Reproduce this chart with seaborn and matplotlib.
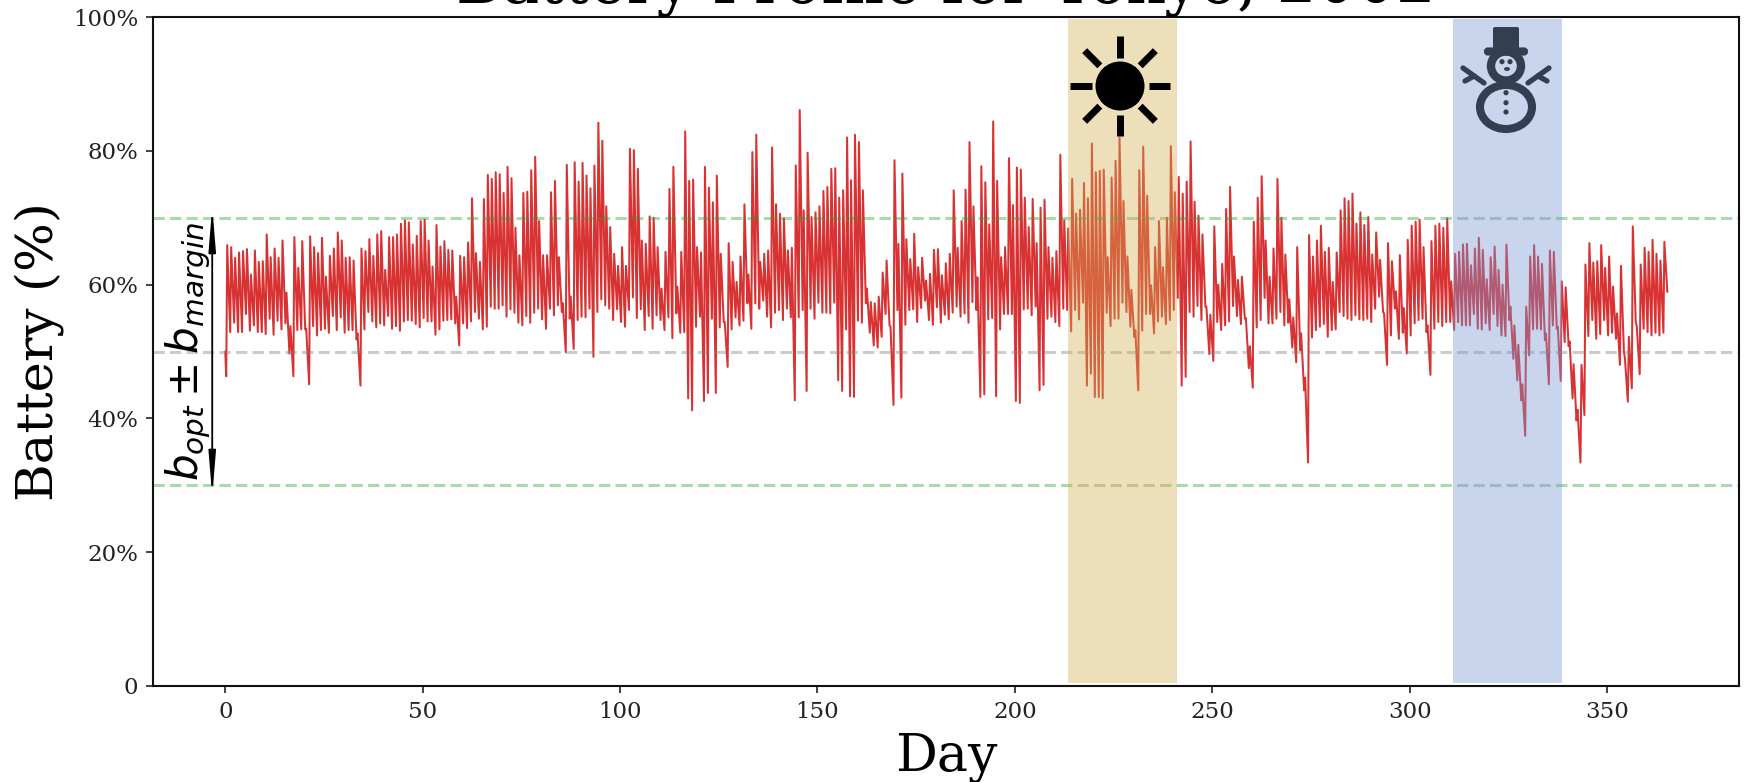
#!/usr/bin/env python

'''
Battery profile for Tokyo: one daily peak and one daily trough read off the chart.
'''

import numpy as np
import pandas as pd
import seaborn as sns
import matplotlib
matplotlib.use("Agg")
import matplotlib.pyplot as plt
from matplotlib.patches import Circle, Ellipse, FancyBboxPatch

start_value = [50.0]

peaks_a = [65.9, 65.6, 64.0, 64.8, 65.0, 65.3, 61.5, 65.1, 63.4, 63.5,
           67.5, 64.1, 65.4, 64.0, 66.6, 58.8, 53.8, 67.1, 62.5, 66.5,
           53.4, 67.2, 65.6, 64.7, 67.0, 61.2, 64.3, 65.4, 67.8, 66.6,
           64.0, 64.1, 63.6, 52.7, 65.4, 65.0, 66.8, 64.3, 67.5, 68.0,
           62.2, 67.1, 67.1, 67.5, 69.1, 69.6, 69.3, 66.0, 67.3, 69.5,
           69.7, 66.6, 62.7, 68.9, 65.7, 66.5, 65.2, 65.1, 58.2, 64.3,
           64.1, 66.3, 72.9, 64.7, 63.4, 72.8, 76.4, 75.8, 76.8, 76.5,
           73.7, 77.6]
peaks_b = [75.9, 68.5, 64.4, 73.7, 73.9, 77.1, 79.1, 69.5, 64.4, 64.4,
           73.8, 75.5, 64.1, 57.2, 77.9, 58.2, 78.3, 75.4, 78.2, 76.3,
           74.4, 77.8, 84.2, 81.5, 71.7, 68.6, 64.6, 62.8, 65.6, 62.8,
           80.3, 80.1, 77.3, 66.6, 66.1, 70.2, 70.0, 65.6, 59.4, 64.9,
           74.3, 77.6, 59.7, 64.9, 82.9, 75.5, 75.7, 65.6, 64.8, 77.6,
           74.5, 72.3, 76.3, 64.6, 54.4, 66.2, 63.4, 60.4, 64.2, 72.0,
           61.5, 79.8, 82.4, 63.4, 64.6, 65.1, 80.5, 72.0, 70.6, 69.9,
           65.1]
peaks_c = [65.5, 77.8, 86.1, 71.1, 79.7, 70.1, 70.8, 71.7, 74.0, 74.6,
           77.3, 77.4, 73.0, 74.1, 82.0, 75.6, 82.4, 81.3, 74.1, 59.4,
           57.4, 57.2, 58.2, 61.8, 63.6, 53.7, 78.6, 66.1, 76.6, 66.8,
           63.8, 67.6, 62.6, 64.0, 60.6, 61.6, 65.2, 65.3, 61.4, 63.2,
           64.6, 74.1, 65.5, 69.5, 74.2, 81.3, 71.7, 61.1, 77.7, 75.3,
           69.0, 84.4, 75.5, 64.1, 65.6, 78.9, 71.9, 77.5, 77.2, 73.0,
           68.6, 72.8, 66.2, 71.5, 72.7, 65.6, 64.0, 65.0, 79.4, 69.6,
           68.4]
peaks_d = [75.8, 70.6, 71.2, 75.2, 72.9, 81.1, 76.8, 77.0, 77.2, 64.1,
           76.0, 78.5, 82.0, 72.5, 64.2, 59.2, 53.2, 77.1, 80.6, 73.3,
           59.9, 65.6, 69.5, 62.6, 70.0, 80.7, 73.8, 76.1, 73.6, 75.4,
           81.4, 72.4, 70.3, 67.5, 56.7, 55.5, 68.7, 60.0, 63.1, 71.3,
           74.6, 64.2, 60.7, 61.2, 55.0, 50.8, 69.4, 73.0, 76.2, 66.6,
           61.2, 65.4, 75.8, 70.0, 64.5, 57.8, 55.1, 65.6, 52.7, 46.1,
           67.4, 64.2, 66.6, 68.8, 64.9, 65.5, 60.4, 64.8, 71.1, 72.9,
           72.5]
peaks_e = [73.6, 69.1, 70.8, 68.9, 70.1, 64.5, 67.8, 63.7, 55.7, 66.2,
           63.5, 59.0, 64.4, 56.5, 66.7, 68.8, 69.4, 69.7, 65.6, 53.9,
           66.5, 68.8, 69.1, 68.5, 69.9, 60.5, 64.6, 64.9, 66.0, 66.1,
           62.9, 65.4, 67.0, 65.2, 60.8, 64.1, 65.7, 62.2, 60.0, 66.0,
           56.7, 53.9, 51.0, 45.1, 56.7, 64.2, 65.9, 64.2, 63.1, 52.7,
           65.1, 64.9, 53.7, 60.5, 59.6, 51.5, 48.1, 41.3, 48.0, 63.0,
           66.2, 63.3, 63.5, 65.9, 62.5, 64.2, 59.7, 55.7, 62.8,
           49.0, 52.2, 68.7, 53.8, 63.0, 65.5, 64.9, 66.7, 64.6,
           63.6, 66.4]

troughs_a = [46.3,
             52.9, 54.3, 52.9, 52.9, 55.6, 53.1, 53.9, 52.9, 52.9, 52.6,
             54.9, 52.5, 54.6, 53.3, 54.2, 49.7, 46.3, 53.2, 53.3, 53.3,
             45.1, 53.8, 52.4, 53.2, 53.4, 52.8, 55.3, 53.2, 55.1, 52.8,
             53.2, 53.2, 51.8, 44.9, 53.3, 55.9, 54.5, 53.6, 54.2, 53.9,
             55.3, 53.4, 53.8, 53.1, 54.5, 54.7, 54.6, 54.1, 53.6, 55.0,
             54.5, 54.5, 52.5, 53.3, 54.6, 54.7, 54.8, 54.2, 50.9, 54.2,
             53.5, 54.5, 55.9, 54.9, 53.3, 53.7, 56.7, 56.4, 56.4, 56.9,
             55.2, 56.3]
troughs_b = [55.8, 54.3, 53.9, 55.3, 54.3, 55.8, 56.4, 54.8, 53.4, 56.4,
             55.4, 56.9, 55.9, 49.9, 54.9, 50.4, 54.7, 55.2, 55.1, 56.4,
             49.2, 55.9, 57.8, 56.9, 56.4, 54.7, 56.3, 54.4, 53.7, 56.2,
             58.1, 55.0, 56.3, 53.2, 55.3, 53.4, 55.4, 54.7, 53.2, 55.1,
             52.0, 55.7, 52.8, 52.9, 43.0, 41.2, 53.7, 55.2, 42.6, 43.8,
             54.9, 43.8, 53.6, 54.4, 47.7, 53.3, 55.1, 53.9, 54.6, 57.2,
             53.4, 57.2, 56.4, 57.6, 55.2, 53.6, 55.8, 56.2, 54.7, 56.4,
             55.1]
troughs_c = [42.7, 55.1, 56.2, 44.1, 56.4, 54.9, 57.3, 55.8, 55.8, 55.7,
             57.3, 45.7, 44.1, 53.3, 43.3, 43.2, 54.6, 54.3, 57.2, 52.8,
             50.9, 50.6, 52.2, 55.6, 53.9, 42.0, 56.2, 43.1, 54.0, 56.2,
             56.3, 54.4, 56.5, 57.6, 54.7, 54.0, 56.6, 54.3, 55.5, 54.8,
             55.8, 56.7, 55.2, 55.7, 54.3, 57.4, 56.2, 43.2, 43.6, 54.8,
             55.0, 43.3, 53.3, 55.6, 55.6, 55.6, 42.6, 42.3, 56.3, 56.4,
             55.4, 56.7, 44.2, 45.0, 54.9, 55.2, 54.4, 53.8, 56.4, 56.2,
             53.0]
troughs_d = [56.2, 54.8, 57.3, 44.9, 46.7, 43.2, 43.2, 43.0, 55.8, 53.8,
             54.9, 54.9, 57.3, 55.9, 53.7, 52.2, 44.2, 53.1, 55.6, 55.6,
             52.7, 54.5, 55.2, 54.1, 54.7, 56.2, 58.0, 44.9, 46.2, 55.9,
             55.2, 56.8, 54.7, 56.7, 49.6, 48.6, 54.4, 53.2, 53.9, 54.5,
             56.8, 55.3, 54.1, 54.9, 47.5, 44.6, 53.6, 54.7, 58.0, 54.2,
             54.2, 54.9, 55.9, 53.9, 54.3, 50.6, 48.4, 50.2, 44.2, 33.4,
             52.1, 53.2, 53.7, 54.1, 52.2, 53.2, 53.3, 55.9, 55.3, 54.9,
             54.7]
troughs_e = [55.4, 54.8, 54.7, 54.9, 54.4, 56.4, 58.2, 55.9, 48.0, 52.4,
             56.4, 51.9, 52.8, 49.7, 52.4, 54.2, 54.7, 54.9, 52.9, 46.5,
             53.4, 54.4, 53.8, 54.4, 54.4, 53.2, 54.4, 53.9, 53.9, 53.9,
             55.6, 53.4, 53.3, 54.2, 53.2, 55.6, 53.8, 52.4, 52.3, 54.7,
             48.9, 45.7, 42.7, 37.4, 49.4, 53.3, 53.4, 53.3, 51.7, 45.1,
             53.9, 53.4, 45.6, 51.4, 50.8, 43.0, 39.7, 33.4, 40.5, 52.3,
             54.7, 51.9, 52.6, 54.7, 52.4, 52.8, 51.9, 48.0,
             50.0, 42.5, 44.5, 54.4, 46.6, 53.4, 52.9, 52.4, 52.8,
             52.4, 52.8, 58.9]

summer_days = [213.5, 241.0]
winter_days = [311.0, 338.5]
year_ticks = [0, 50, 100, 150, 200, 250, 300, 350]
pct_ticks = [0, 20, 40, 60, 80, 100]
pct_labels = ["0", "20%", "40%", "60%", "80%", "100%"]

peaks = peaks_a + peaks_b + peaks_c + peaks_d + peaks_e
troughs = troughs_a + troughs_b + troughs_c + troughs_d + troughs_e

df = pd.DataFrame({
    "day": np.concatenate([[0.0], np.arange(len(troughs)) + 0.25, np.arange(len(peaks)) + 0.5]),
    "battery": start_value + troughs + peaks,
}).sort_values("day")

sns.set_style("ticks")
plt.rcParams["font.family"] = ["DejaVu Serif"]
plt.rcParams["text.color"] = "black"
plt.rcParams["axes.labelcolor"] = "black"

fig = plt.figure(figsize=(17.44, 7.82), dpi=100)
ax = fig.add_axes([153 / 1744, 1 - 686 / 782, 1586 / 1744, 669 / 782])

sns.lineplot(data=df, x="day", y="battery", estimator=None, color="#d62728", alpha=0.95, linewidth=1.45, ax=ax)

dash = (0, (3.7, 1.7))
ax.axhline(70, color="tab:green", alpha=0.4, linewidth=2.2, linestyle=dash)
ax.axhline(30, color="tab:green", alpha=0.4, linewidth=2.2, linestyle=dash)
ax.axhline(50, color="gray", alpha=0.4, linewidth=2.2, linestyle=dash)

ax.axvspan(summer_days[0], summer_days[1], ymin=0.005, ymax=0.997, color="#d2af52", alpha=0.4, linewidth=0, zorder=5)
ax.axvspan(winter_days[0], winter_days[1], ymin=0.005, ymax=0.997, color="#7898d4", alpha=0.4, linewidth=0, zorder=5)

# the arrow tips sit short of the end points, so the end points go a bit past 30 and 70
ax.annotate("", xy=(-3.3, 71.6), xytext=(-3.3, 28.4),
            arrowprops=dict(arrowstyle="<|-|>,head_length=1.7,head_width=0.14", mutation_scale=15,
                            color="black", linewidth=1.3, shrinkA=0, shrinkB=0))
ax.text(-9.3, 50, r"$b_{opt} \pm b_{margin}$", rotation=90, ha="center", va="center", fontsize=30.3)

ax.set_xlim(-18.3, 383.4)
ax.set_ylim(0, 100)
ax.set_xticks(year_ticks)
ax.set_yticks(pct_ticks)
ax.set_yticklabels(pct_labels)
ax.tick_params(labelsize=16.5, length=5, width=1.2, pad=5.5, colors="#222222")
for side in ["left", "right", "top", "bottom"]:
    ax.spines[side].set_visible(True)
    ax.spines[side].set_linewidth(1.5)
    ax.spines[side].set_color("#111111")

ax.set_xlabel("Day", fontsize=37.5, labelpad=6.7)
ax.set_ylabel("Battery (%)", fontsize=37, labelpad=6.7)
ax.set_title("Battery Profile for Tokyo, 2002", fontsize=45, pad=10)

# icons sit on an overlay measured in image pixels so they stay round
icons = fig.add_axes([0, 0, 1, 1], zorder=10)
icons.set_xlim(0, 1744)
icons.set_ylim(782, 0)
icons.axis("off")

# sun
sun_x, sun_y = 1120, 86
icons.add_patch(Circle((sun_x, sun_y), 24.5, color="black", linewidth=0))
for a in np.radians([0, 45, 90, 135, 180, 225, 270, 315]):
    r0 = 28.5
    r1 = 50
    icons.plot([sun_x + r0 * np.cos(a), sun_x + r1 * np.cos(a)],
               [sun_y + r0 * np.sin(a), sun_y + r1 * np.sin(a)],
               color="black", linewidth=5, solid_capstyle="butt")

# snowman
snow = "#323f50"
icons.add_patch(Ellipse((1506, 107), 52, 44, fill=False, edgecolor=snow, linewidth=5.8))
icons.add_patch(Ellipse((1506, 66), 30, 29, fill=False, edgecolor=snow, linewidth=6))
icons.add_patch(FancyBboxPatch((1493, 27), 26, 22, boxstyle="round,pad=0,rounding_size=2", color=snow, linewidth=0))
icons.add_patch(FancyBboxPatch((1486, 49.5), 40, 4, boxstyle="round,pad=0,rounding_size=2", color=snow, linewidth=3))
for bx, by in [(1506, 92.7), (1506, 102.7), (1506, 112), (1502, 61.7), (1510, 61.7)]:
    icons.add_patch(Circle((bx, by), 2.6, color=snow, linewidth=0))
icons.add_patch(Ellipse((1507, 69), 6, 4, color=snow, linewidth=0))
for sx in [-1, 1]:
    icons.plot([1506 + sx * 22, 1506 + sx * 43], [83, 68], color=snow, linewidth=3.8, solid_capstyle="round")
    icons.plot([1506 + sx * 32, 1506 + sx * 41], [76, 81], color=snow, linewidth=3.8, solid_capstyle="round")

fig.savefig("out.png", dpi=100)
